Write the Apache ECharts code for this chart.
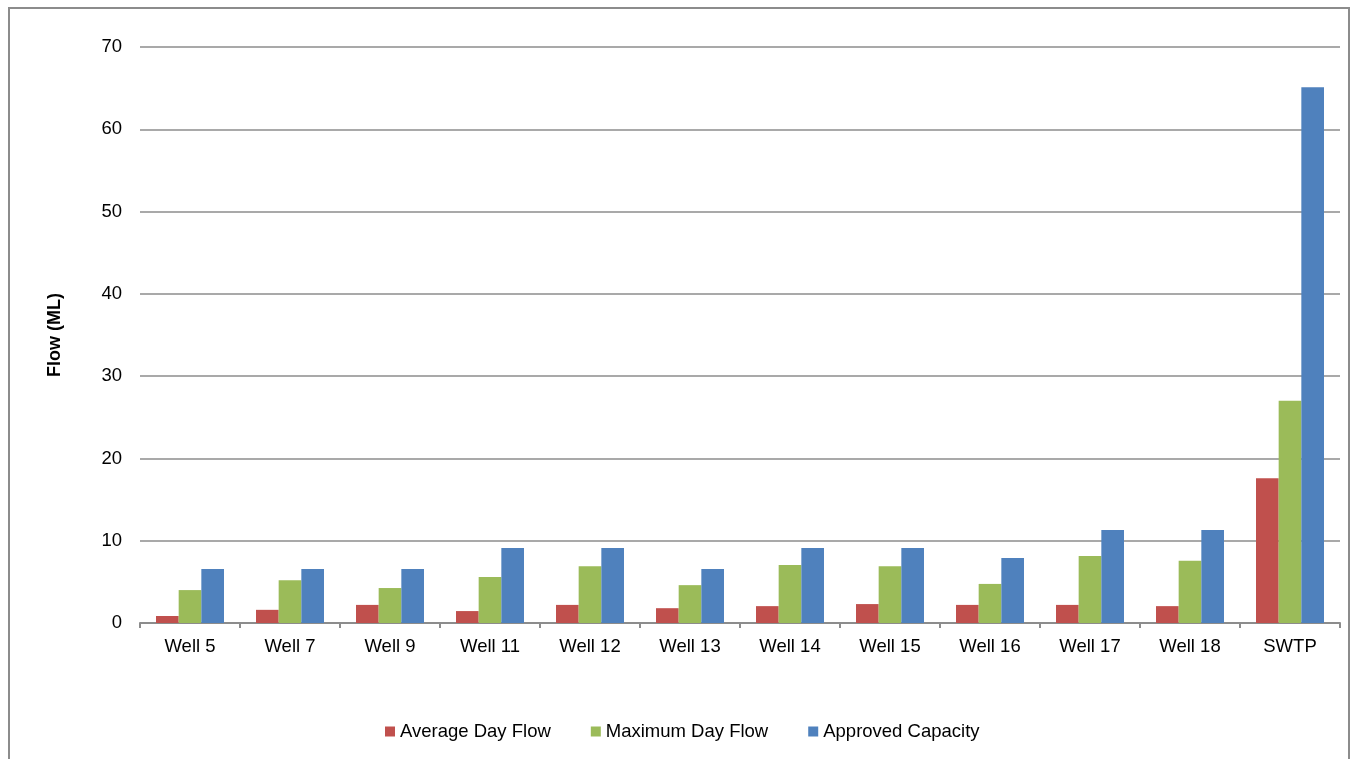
<!DOCTYPE html>
<html>
<head>
<meta charset="utf-8">
<style>
  html, body { margin: 0; padding: 0; background: #fff; }
  #frame { position: absolute; left: 8px; top: 7px; width: 1342px; height: 760px; border: 2px solid #8c8c8c; box-sizing: border-box; }
  #chart { position: absolute; left: 0; top: 0; width: 1356px; height: 759px; }
</style>
<script src="https://cdn.jsdelivr.net/npm/echarts@6/dist/echarts.min.js"></script>
</head>
<body>
<div id="frame"></div>
<div id="chart"></div>
<script>
// categories and values
const categories = ['Well 5', 'Well 7', 'Well 9', 'Well 11', 'Well 12', 'Well 13', 'Well 14', 'Well 15', 'Well 16', 'Well 17', 'Well 18', 'SWTP'];
const averageDayFlow = [0.85, 1.6, 2.2, 1.45, 2.2, 1.8, 2.05, 2.3, 2.2, 2.2, 2.05, 17.6];
const maximumDayFlow = [4.0, 5.2, 4.25, 5.6, 6.9, 4.6, 7.05, 6.9, 4.75, 8.15, 7.55, 27.0];
const approvedCapacity = [6.55, 6.55, 6.55, 9.1, 9.1, 6.55, 9.1, 9.1, 7.9, 11.3, 11.3, 65.1];
const seriesNames = ['Average Day Flow', 'Maximum Day Flow', 'Approved Capacity'];
const seriesColors = ['#c0504d', '#9bbb59', '#4f81bd'];

const chart = echarts.init(document.getElementById('chart'));
const font = 'Liberation Sans, Arial, sans-serif';

const dataSets = [averageDayFlow, maximumDayFlow, approvedCapacity];

const option = {
  animation: false,
  textStyle: { fontFamily: font },
  legend: {
    bottom: 13,
    left: 380,
    itemWidth: 10,
    itemHeight: 10,
    itemGap: 40,
    icon: 'rect',
    textStyle: { fontSize: 18.5, color: '#000', fontFamily: font },
    data: seriesNames
  },
  grid: { left: 140, right: 16, top: 47, bottom: 136 },
  xAxis: {
    type: 'category',
    data: categories,
    axisLine: { lineStyle: { color: '#8c8c8c', width: 2 } },
    axisTick: { show: true, length: 5, lineStyle: { color: '#8c8c8c', width: 2 } },
    axisLabel: { color: '#000', fontSize: 18.5, margin: 14, fontFamily: font }
  },
  yAxis: {
    type: 'value',
    min: 0,
    max: 70,
    interval: 10,
    name: 'Flow (ML)',
    nameLocation: 'middle',
    nameGap: 76,
    nameTextStyle: { fontSize: 18, fontWeight: 'bold', color: '#000', fontFamily: font },
    axisLine: { show: false },
    axisTick: { show: false },
    axisLabel: { color: '#000', fontSize: 18.5, margin: 18, fontFamily: font },
    splitLine: { lineStyle: { color: '#8c8c8c', width: 1.5 } }
  },
  series: seriesNames.map((name, i) => ({
    name: name,
    type: 'bar',
    data: dataSets[i],
    barGap: '0%',
    barCategoryGap: '32%',
    itemStyle: { color: seriesColors[i] }
  }))
};

chart.setOption(option);
</script>
</body>
</html>
